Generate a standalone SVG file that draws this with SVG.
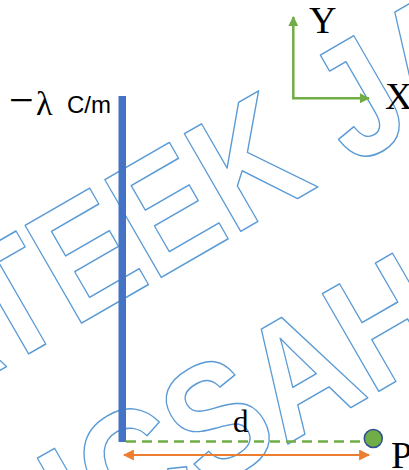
<svg xmlns="http://www.w3.org/2000/svg" width="409" height="470" viewBox="0 0 409 470">
  <style>
    .wm { font-family: "Liberation Sans", Arial, sans-serif; font-weight: bold; font-size: 164px; fill: none; stroke: #5B9BD5; stroke-width: 1.5; stroke-linejoin: round; }
    .serif { font-family: "Liberation Serif", "Times New Roman", serif; fill: #000; }
    .sans { font-family: "Liberation Sans", Arial, sans-serif; fill: #000; }
    .axis { stroke: #70AD47; stroke-width: 2.5; fill: none; }
  </style>
  <defs>
    <marker id="gArrow" viewBox="0 0 10 10" refX="9" refY="5" markerWidth="4" markerHeight="4" orient="auto" markerUnits="strokeWidth">
      <path d="M0,0 L10,5 L0,10 z" fill="#70AD47"/>
    </marker>
    <marker id="oArrow" viewBox="0 0 10 10" refX="9" refY="5" markerWidth="5" markerHeight="5" orient="auto-start-reverse" markerUnits="strokeWidth">
      <path d="M0,0 L10,5 L0,10 z" fill="#ED7D31"/>
    </marker>
  </defs>
  <rect width="409" height="470" fill="#fff"/>

  <g id="watermark">
    <g transform="translate(-242.3,510.2) rotate(-30) scale(0.84,1)">
      <text class="wm" x="0" y="0">PRATEEK JAIN</text>
    </g>
    <g transform="translate(-239,748) rotate(-30) scale(0.84,1)">
      <text class="wm" x="0" y="0">PHYSICSAHOLICS</text>
    </g>
  </g>

  <g id="line-charge">
    <rect x="118.5" y="96" width="7.5" height="346" fill="#4472C4"/>
    <text class="serif" x="9" y="114.5" font-size="44">−</text>
    <text class="serif" x="36" y="115" font-size="34">λ</text>
    <text class="sans" x="67" y="113" font-size="24">C/m</text>
  </g>

  <g id="axes">
    <path class="axis" d="M293.3,98.3 V17" marker-end="url(#gArrow)"/>
    <path class="axis" d="M292,98.3 H369" marker-end="url(#gArrow)"/>
    <text class="serif" x="309" y="33" font-size="38">Y</text>
    <text class="serif" x="385" y="109" font-size="38">X</text>
  </g>

  <g id="point-P">
    <circle cx="373.3" cy="438.5" r="9" fill="#70AD47" stroke="#2F528F" stroke-width="1.5"/>
    <text class="serif" x="391" y="468" font-size="38">P</text>
  </g>

  <g id="connectors">
    <line x1="126" y1="441.5" x2="363" y2="441.5" stroke="#70AD47" stroke-width="2.5" stroke-dasharray="10,6"/>
    <line x1="124" y1="455" x2="369" y2="455" stroke="#ED7D31" stroke-width="2.2" marker-start="url(#oArrow)" marker-end="url(#oArrow)"/>
    <text class="serif" x="233" y="432" font-size="31">d</text>
  </g>
</svg>
